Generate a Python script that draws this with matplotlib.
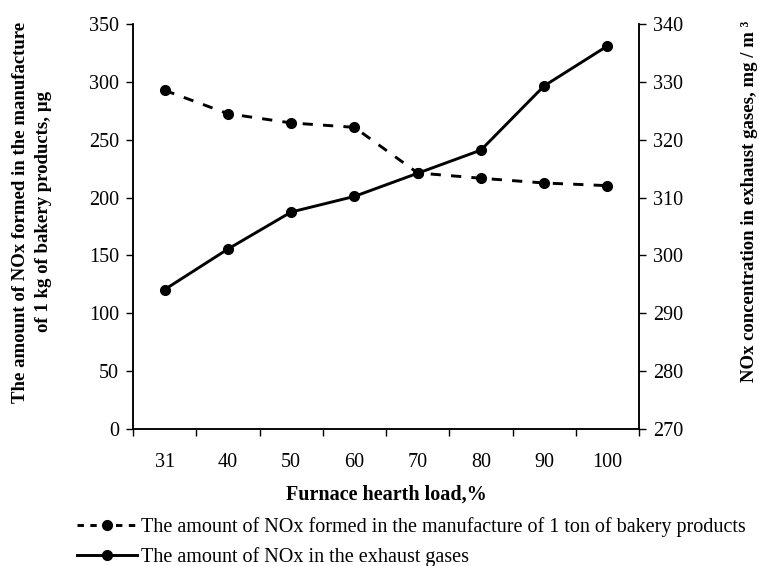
import numpy as np
import matplotlib
matplotlib.use("Agg")
import matplotlib.pyplot as plt
from matplotlib.lines import Line2D

plt.rcParams["font.family"] = ["Liberation Serif", "DejaVu Serif"]

# furnace hearth load, %
loads = ["31", "40", "50", "60", "70", "80", "90", "100"]
# NOx formed per product (left axis)
nox_formed = [292.7, 272.5, 264.5, 260.7, 221.3, 216.7, 212.6, 210.3]
# NOx concentration in exhaust gases (right axis)
nox_exhaust = [294.1, 301.1, 307.5, 310.2, 314.2, 318.2, 329.3, 336.2]

left_ticks = [0, 50, 100, 150, 200, 250, 300, 350]
right_ticks = [270, 280, 290, 300, 310, 320, 330, 340]

FS = 14.5      # horizontal text
FS_ROT = 13.5  # rotated axis titles
LW = 2.1

fig = plt.figure(figsize=(7.59, 5.66), dpi=100)
ax = fig.add_axes([133 / 759, 1 - 429 / 566, (639 - 133) / 759, (429 - 24) / 566])
ax2 = ax.twinx()

x = np.arange(len(loads))
ax.plot(x, nox_formed, color="black", lw=LW, dashes=(3.5, 3.5), marker="o", ms=7, zorder=3)
ax2.plot(x, nox_exhaust, color="black", lw=LW, marker="o", ms=7, zorder=3)

ax.set_xlim(-0.5, len(loads) - 0.5)
ax.set_ylim(0, 350)
ax2.set_ylim(270, 340)
ax.set_yticks(left_ticks)
ax2.set_yticks(right_ticks)

# ticks sit between categories, labels at centres
ax.set_xticks(np.arange(-0.5, len(loads), 1.0))
ax.set_xticklabels([])
ax.set_xticks(x, minor=True)
ax.set_xticklabels(loads, minor=True)
ax.tick_params(axis="x", which="major", direction="out", length=5, width=1)
ax.tick_params(axis="x", which="minor", length=0, pad=17, labelsize=FS)
ax.tick_params(axis="y", direction="out", length=5, width=1, labelsize=FS, pad=5)
ax2.tick_params(axis="y", direction="out", length=5, width=1, labelsize=FS, pad=5)

for a in (ax, ax2):
    a.spines["top"].set_visible(False)
    for s in ("left", "right", "bottom"):
        a.spines[s].set_linewidth(1.1)

fig.text(386 / 759, 1 - 495 / 566, "Furnace hearth load,%", ha="center", va="center",
         fontsize=FS, fontweight="bold")
fig.text(32 / 759, 1 - 212 / 566,
         "The amount of NOx formed in the manufacture\nof 1 kg of bakery products, \u00b5g",
         rotation=90, ha="center", va="center", multialignment="center",
         fontsize=FS_ROT, fontweight="bold", linespacing=1.45)
fig.text(750 / 759, 1 - 201 / 566, "NOx concentration in exhaust gases, mg / m \u00b3",
         rotation=90, ha="center", va="center", fontsize=FS_ROT, fontweight="bold")

handles = [
    Line2D([], [], color="black", lw=LW, dashes=(2.2, 2.2), marker="o", ms=7),
    Line2D([], [], color="black", lw=LW, marker="o", ms=7),
]
labels = ["The amount of NOx formed in the manufacture of 1 ton of bakery products",
          "The amount of NOx in the exhaust gases"]
fig.legend(handles, labels, loc="upper left", bbox_to_anchor=(77 / 759, 1 - 517 / 566),
           frameon=False, fontsize=FS, handlelength=3.0, handletextpad=0.2,
           labelspacing=0.5, borderaxespad=0, borderpad=0)

fig.savefig("out.png", dpi=100)
